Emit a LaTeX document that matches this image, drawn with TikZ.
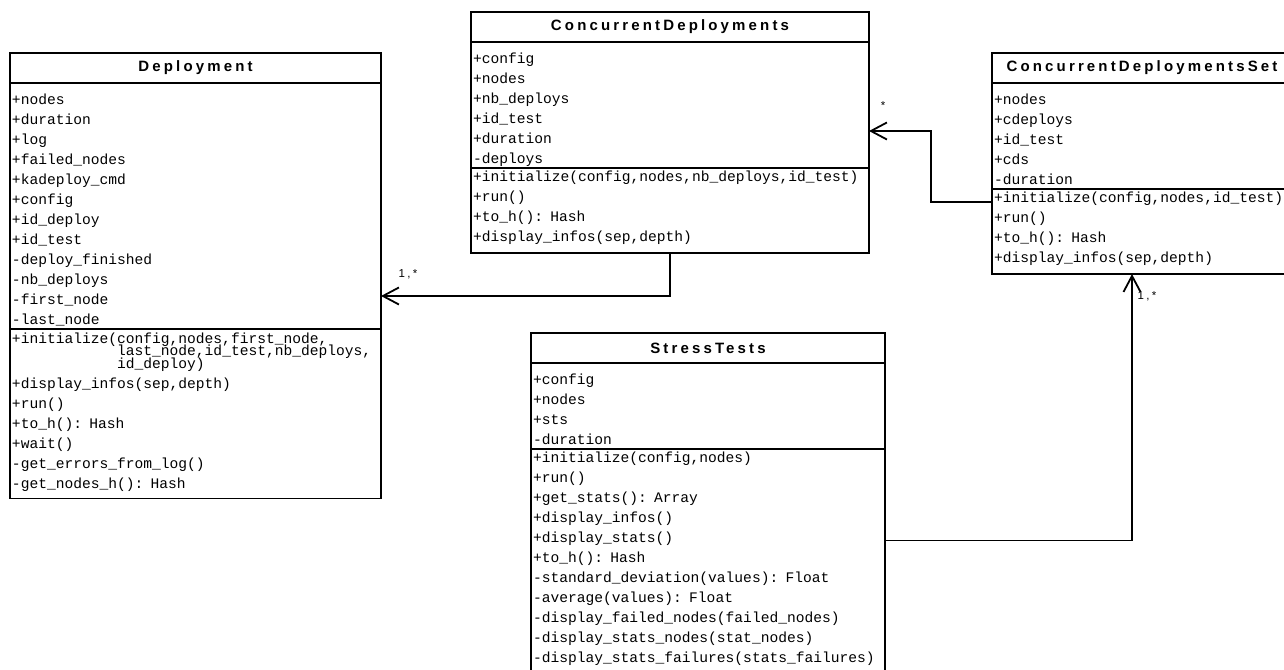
\documentclass[tikz,border=0pt]{standalone}
\usepackage{fontspec}
\setmainfont{Liberation Sans}
\newfontfamily\umlmono{Liberation Mono}
\newfontfamily\umlhead{Liberation Sans}[LetterSpace=21]
\usetikzlibrary{arrows.meta, positioning, calc}
\tikzset{
	clsname/.style={draw, line width=1.8pt, anchor=north west, outer sep=0pt, inner xsep=2pt, inner ysep=0pt, minimum height=30pt, align=center, font=\umlhead\fontsize{15pt}{18pt}\selectfont\bfseries},
	% one compartment of a class box, #1 = depth below the first baseline
	clsbody/.style={draw, line width=1.8pt, anchor=north west, outer sep=0pt, inner xsep=2pt, inner ysep=3pt, align=left, text height=18.5pt, text depth=#1, font=\umlmono\fontsize{14.6pt}{20pt}\selectfont},
	% operations sit higher in their compartment
	clsops/.style={clsbody=#1, text height=10.5pt},
	assoc/.style={line width=1.8pt, -{Straight Barb[length=16pt, width=17pt]}},
	mult/.style={inner sep=0pt, font=\umlhead\fontsize{11.5pt}{13pt}\selectfont},
}

\begin{document}
\begin{tikzpicture}[x=1pt, y=-1pt]
	\useasboundingbox (0,0) rectangle (1284,669);

	% Deployment
	\node[clsname, text width=367pt] (dep) at (10,53) {Deployment};
	\node[clsbody=221.5pt, text width=367pt] (depA) at (dep.south west) {+nodes\\+duration\\+log\\+failed\_nodes\\+kadeploy\_cmd\\+config\\+id\_deploy\\+id\_test\\-deploy\_finished\\-nb\_deploys\\-first\_node\\-last\_node};
	\node[clsbody=152.5pt, text height=11pt, text width=367pt] (depM) at (depA.south west) {+initialize(config,nodes,first\_node,\\[-7.5pt]\phantom{+initialize(}last\_node,id\_test,nb\_deploys,\\[-7.5pt]\phantom{+initialize(}id\_deploy)\\+display\_infos(sep,depth)\\+run()\\+to\_h(): Hash\\+wait()\\-get\_errors\_from\_log()\\-get\_nodes\_h(): Hash};

	% ConcurrentDeployments
	\node[clsname, text width=394pt] (cd) at (471,12) {ConcurrentDeployments};
	\node[clsbody=101.5pt, text width=394pt] (cdA) at (cd.south west) {+config\\+nodes\\+nb\_deploys\\+id\_test\\+duration\\-deploys};
	\node[clsops=68.5pt, text width=394pt] (cdM) at (cdA.south west) {+initialize(config,nodes,nb\_deploys,id\_test)\\+run()\\+to\_h(): Hash\\+display\_infos(sep,depth)};

	% ConcurrentDeploymentsSet
	\node[clsname, text width=296pt] (cds) at (992,53) {ConcurrentDeploymentsSet};
	\node[clsbody=81.5pt, text width=296pt] (cdsA) at (cds.south west) {+nodes\\+cdeploys\\+id\_test\\+cds\\-duration};
	\node[clsops=68.5pt, text width=296pt] (cdsM) at (cdsA.south west) {+initialize(config,nodes,id\_test)\\+run()\\+to\_h(): Hash\\+display\_infos(sep,depth)};

	% StressTests
	\node[clsname, text width=350pt] (st) at (531,333) {StressTests};
	\node[clsbody=61.5pt, text width=350pt] (stA) at (st.south west) {+config\\+nodes\\+sts\\-duration};
	\node[clsops=208.5pt, text width=350pt] (stM) at (stA.south west) {+initialize(config,nodes)\\+run()\\+get\_stats(): Array\\+display\_infos()\\+display\_stats()\\+to\_h(): Hash\\-standard\_deviation(values): Float\\-average(values): Float\\-display\_failed\_nodes(failed\_nodes)\\-display\_stats\_nodes(stat\_nodes)\\-display\_stats\_failures(stats\_failures)};

	% associations
	\draw[assoc] (cdM.south) |- ([yshift=33pt]depA.south east) node[mult, xshift=27pt, yshift=22pt] (mulDep) {1,*};
	\draw[assoc] ([yshift=-13pt]cdsM.north west) -- ++(-61,0) |- ([yshift=-26pt]cdA.east) node[mult, xshift=14pt, yshift=25pt] (mulCd) {*};
	\draw[assoc] ([yshift=21pt]stM.east) -| ([xshift=-10pt]cdsM.south) node[mult, xshift=15pt, yshift=-22pt] (mulSet) {1,*};
\end{tikzpicture}
\end{document}
